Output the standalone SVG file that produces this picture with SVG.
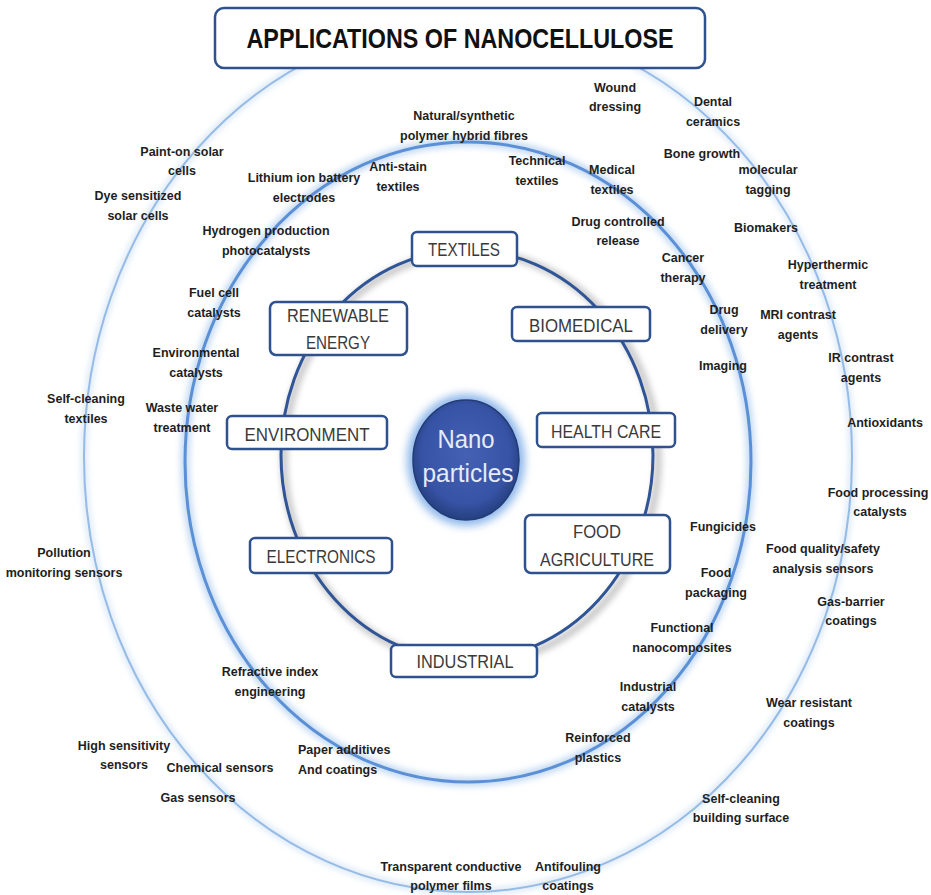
<svg xmlns="http://www.w3.org/2000/svg" width="931" height="895" viewBox="0 0 931 895">
<defs>
  <filter id="blur3" x="-20%" y="-20%" width="140%" height="140%"><feGaussianBlur stdDeviation="3"/></filter>
  <filter id="blur5" x="-30%" y="-30%" width="160%" height="160%"><feGaussianBlur stdDeviation="4"/></filter>
  <radialGradient id="core" cx="50%" cy="45%" r="55%">
    <stop offset="0" stop-color="#4461b3"/>
    <stop offset="0.75" stop-color="#3753a5"/>
    <stop offset="1" stop-color="#25407f"/>
  </radialGradient>
  <style>
    .box{fill:#fff;stroke:#2f528f;stroke-width:2.5}
    .bl{font-family:"Liberation Sans",Arial,sans-serif;font-size:18px;fill:#3a3a3a;text-anchor:middle}
    .lb{font-family:"Liberation Sans",Arial,sans-serif;font-size:12.5px;font-weight:bold;fill:#1e1e1e;text-anchor:middle}
    .title{font-family:"Liberation Sans",Arial,sans-serif;font-size:28px;font-weight:bold;fill:#111;text-anchor:middle}
    .nano{font-family:"Liberation Sans",Arial,sans-serif;font-size:25px;fill:#e6ebf5;text-anchor:middle}
  </style>
</defs>
<rect width="931" height="895" fill="#fff"/>

<g id="rings">
  <ellipse cx="468" cy="457" rx="384" ry="435" fill="none" stroke="#c6dbf1" stroke-width="6" opacity="0.7" filter="url(#blur3)"/>
  <ellipse cx="468" cy="457" rx="384" ry="435" fill="none" stroke="#95bbe6" stroke-width="2"/>
  <ellipse cx="468" cy="462" rx="283" ry="320" fill="none" stroke="#a9c9ec" stroke-width="9" opacity="0.7" filter="url(#blur3)"/>
  <ellipse cx="468" cy="462" rx="283" ry="320" fill="none" stroke="#5b90d6" stroke-width="3"/>
  <ellipse cx="471" cy="458" rx="187" ry="206" fill="none" stroke="#8c8c8c" stroke-width="7" opacity="0.5" filter="url(#blur3)"/>
  <ellipse cx="467" cy="455" rx="186" ry="205" fill="none" stroke="#2f5597" stroke-width="3"/>
</g>

<g id="title">
  <rect x="215" y="8" width="490" height="60" rx="9" class="box"/>
  <text x="460" y="48" class="title" textLength="427" lengthAdjust="spacingAndGlyphs">APPLICATIONS OF NANOCELLULOSE</text>
</g>

<g id="center">
  <ellipse cx="466" cy="460" rx="59" ry="66" fill="#8fb8ea" filter="url(#blur5)"/>
  <ellipse cx="466" cy="460" rx="53" ry="60" fill="url(#core)" stroke="#233b78" stroke-width="1.5"/>
  <text x="466" y="448" class="nano" textLength="57" lengthAdjust="spacingAndGlyphs">Nano</text>
  <text x="468" y="482" class="nano" textLength="91" lengthAdjust="spacingAndGlyphs">particles</text>
</g>

<g id="textiles"><rect x="412" y="232" width="105" height="34" rx="5" class="box"/><text x="464" y="256" class="bl" textLength="72" lengthAdjust="spacingAndGlyphs">TEXTILES</text></g>
<g id="renewable-energy"><rect x="270" y="302" width="137" height="53" rx="6" class="box"/><text x="338" y="322" class="bl" textLength="102" lengthAdjust="spacingAndGlyphs">RENEWABLE</text><text x="338" y="349" class="bl" textLength="64" lengthAdjust="spacingAndGlyphs">ENERGY</text></g>
<g id="biomedical"><rect x="512" y="307" width="138" height="34" rx="5" class="box"/><text x="581" y="332" class="bl" textLength="104" lengthAdjust="spacingAndGlyphs">BIOMEDICAL</text></g>
<g id="environment"><rect x="227" y="416" width="160" height="33" rx="5" class="box"/><text x="307" y="441" class="bl" textLength="125" lengthAdjust="spacingAndGlyphs">ENVIRONMENT</text></g>
<g id="health-care"><rect x="537" y="413" width="138" height="34" rx="5" class="box"/><text x="606" y="438" class="bl" textLength="110" lengthAdjust="spacingAndGlyphs">HEALTH CARE</text></g>
<g id="electronics"><rect x="250" y="538" width="142" height="35" rx="5" class="box"/><text x="321" y="563" class="bl" textLength="109" lengthAdjust="spacingAndGlyphs">ELECTRONICS</text></g>
<g id="food-agriculture"><rect x="525" y="515" width="145" height="58" rx="6" class="box"/><text x="597" y="538" class="bl" textLength="48" lengthAdjust="spacingAndGlyphs">FOOD</text><text x="597" y="566" class="bl" textLength="114" lengthAdjust="spacingAndGlyphs">AGRICULTURE</text></g>
<g id="industrial"><rect x="391" y="645" width="146" height="32" rx="5" class="box"/><text x="465" y="668" class="bl" textLength="97" lengthAdjust="spacingAndGlyphs">INDUSTRIAL</text></g>

<g id="labels">
  <g id="l-wound"><text class="lb" x="615" y="92">Wound<tspan x="615" y="111">dressing</tspan></text></g>
  <g id="l-dental"><text class="lb" x="713" y="106">Dental<tspan x="713" y="126">ceramics</tspan></text></g>
  <g id="l-natural"><text class="lb" x="464" y="120">Natural/synthetic<tspan x="464" y="140">polymer hybrid fibres</tspan></text></g>
  <g id="l-paint"><text class="lb" x="182" y="156">Paint-on solar<tspan x="182" y="175">cells</tspan></text></g>
  <g id="l-lithium"><text class="lb" x="304" y="182">Lithium ion battery<tspan x="304" y="202">electrodes</tspan></text></g>
  <g id="l-antistain"><text class="lb" x="398" y="171">Anti-stain<tspan x="398" y="191">textiles</tspan></text></g>
  <g id="l-technical"><text class="lb" x="537" y="165">Technical<tspan x="537" y="185">textiles</tspan></text></g>
  <g id="l-medical"><text class="lb" x="612" y="174">Medical<tspan x="612" y="194">textiles</tspan></text></g>
  <g id="l-bone"><text class="lb" x="702" y="158">Bone growth</text></g>
  <g id="l-molecular"><text class="lb" x="768" y="174">molecular<tspan x="768" y="194">tagging</tspan></text></g>
  <g id="l-dye"><text class="lb" x="138" y="200">Dye sensitized<tspan x="138" y="220">solar cells</tspan></text></g>
  <g id="l-hydrogen"><text class="lb" x="266" y="235">Hydrogen production<tspan x="266" y="255">photocatalysts</tspan></text></g>
  <g id="l-drugcontrolled"><text class="lb" x="618" y="226">Drug controlled<tspan x="618" y="245">release</tspan></text></g>
  <g id="l-biomakers"><text class="lb" x="766" y="232">Biomakers</text></g>
  <g id="l-cancer"><text class="lb" x="683" y="262">Cancer<tspan x="683" y="282">therapy</tspan></text></g>
  <g id="l-hyper"><text class="lb" x="828" y="269">Hyperthermic<tspan x="828" y="289">treatment</tspan></text></g>
  <g id="l-fuelcell"><text class="lb" x="214" y="297">Fuel cell<tspan x="214" y="317">catalysts</tspan></text></g>
  <g id="l-drugdelivery"><text class="lb" x="724" y="314">Drug<tspan x="724" y="334">delivery</tspan></text></g>
  <g id="l-mri"><text class="lb" x="798" y="319">MRI contrast<tspan x="798" y="339">agents</tspan></text></g>
  <g id="l-envcat"><text class="lb" x="196" y="357">Environmental<tspan x="196" y="377">catalysts</tspan></text></g>
  <g id="l-imaging"><text class="lb" x="723" y="370">Imaging</text></g>
  <g id="l-ir"><text class="lb" x="861" y="362">IR contrast<tspan x="861" y="382">agents</tspan></text></g>
  <g id="l-selfclean-tex"><text class="lb" x="86" y="403">Self-cleaning<tspan x="86" y="423">textiles</tspan></text></g>
  <g id="l-waste"><text class="lb" x="182" y="412">Waste water<tspan x="182" y="432">treatment</tspan></text></g>
  <g id="l-antiox"><text class="lb" x="885" y="427">Antioxidants</text></g>
  <g id="l-foodproc"><text class="lb" x="878" y="497">Food processing<tspan x="880" y="516">catalysts</tspan></text></g>
  <g id="l-fungicides"><text class="lb" x="723" y="531">Fungicides</text></g>
  <g id="l-foodquality"><text class="lb" x="823" y="553">Food quality/safety<tspan x="823" y="573">analysis sensors</tspan></text></g>
  <g id="l-pollution"><text class="lb" x="64" y="557">Pollution<tspan x="64" y="577">monitoring sensors</tspan></text></g>
  <g id="l-foodpack"><text class="lb" x="716" y="577">Food<tspan x="716" y="597">packaging</tspan></text></g>
  <g id="l-gasbarrier"><text class="lb" x="851" y="606">Gas-barrier<tspan x="851" y="625">coatings</tspan></text></g>
  <g id="l-functional"><text class="lb" x="682" y="632">Functional<tspan x="682" y="652">nanocomposites</tspan></text></g>
  <g id="l-refractive"><text class="lb" x="270" y="676">Refractive index<tspan x="270" y="696">engineering</tspan></text></g>
  <g id="l-indcat"><text class="lb" x="648" y="691">Industrial<tspan x="648" y="711">catalysts</tspan></text></g>
  <g id="l-wear"><text class="lb" x="809" y="707">Wear resistant<tspan x="809" y="727">coatings</tspan></text></g>
  <g id="l-reinforced"><text class="lb" x="598" y="742">Reinforced<tspan x="598" y="762">plastics</tspan></text></g>
  <g id="l-highsens"><text class="lb" x="124" y="750">High sensitivity<tspan x="124" y="769">sensors</tspan></text></g>
  <g id="l-paper"><text class="lb" x="298" y="754" style="text-anchor:start">Paper additives<tspan x="298" y="774">And coatings</tspan></text></g>
  <g id="l-chemical"><text class="lb" x="220" y="772">Chemical sensors</text></g>
  <g id="l-gas"><text class="lb" x="198" y="802">Gas sensors</text></g>
  <g id="l-selfclean-bld"><text class="lb" x="741" y="803">Self-cleaning<tspan x="741" y="822">building surface</tspan></text></g>
  <g id="l-transparent"><text class="lb" x="451" y="871">Transparent conductive<tspan x="451" y="890">polymer films</tspan></text></g>
  <g id="l-antifouling"><text class="lb" x="568" y="871">Antifouling<tspan x="568" y="890">coatings</tspan></text></g>
</g>
</svg>
